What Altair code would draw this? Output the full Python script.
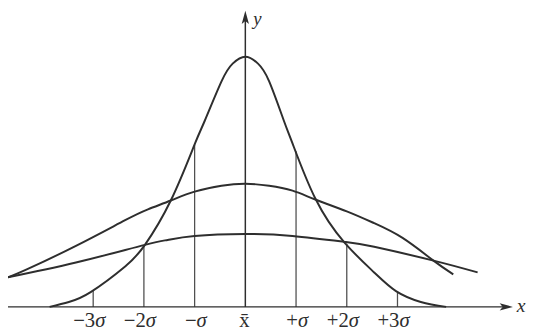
import altair as alt
import pandas as pd

# Curves: x in sigma units, height above the x axis
narrow_s = [-3.86, -3.48, -3.05, -2.37, -1.98, -1.47, -1.0, -0.80, -0.47, -0.25, 0.0,
            0.25, 0.47, 0.76, 0.93, 1.38, 1.96, 2.54, 2.97, 3.46, 3.96]
narrow_h = [0, 5, 15, 41, 63, 108, 165, 189, 229, 247, 254,
            247, 229, 189, 166, 110, 65, 35, 16, 5, 0]

medium_s = [-4.68, -4.31, -3.34, -2.37, -1.92, -1.47, -1.0, -0.47, 0.0,
            0.47, 0.93, 1.38, 2.0, 2.54, 3.1, 3.71, 4.10]
medium_h = [30, 38, 62, 88, 99, 108, 117, 123, 125,
            123, 118, 109, 97, 85, 70, 47, 33]

flat_s = [-4.68, -3.34, -1.98, -1.53, -1.0, 0.0, 0.93, 1.96, 2.54, 3.71, 4.58]
flat_h = [30, 45, 63, 68, 72, 74, 72, 66, 61, 47, 35]

# vertical lines at the sigma marks, up to the narrow curve
vert_s = [-3, -2, -1, 1, 2, 3]
vert_h = [16, 62, 165, 158, 64, 15]

tick_s = [-3, -2, -1, 1, 2, 3]
tick_prefix = ["\u22123", "\u22122", "\u2212", "+", "+2", "+3"]

W, H = 526, 323
xs = alt.Scale(domain=[-4.6796, 5.534], nice=False, zero=False)
ys = alt.Scale(domain=[-22, 301], nice=False, zero=False)
INK = "#2e2e2e"
FONT = "Liberation Serif"
FS = 21

rows = []
for name, S, Hh in [("narrow", narrow_s, narrow_h), ("medium", medium_s, medium_h), ("flat", flat_s, flat_h)]:
    for s, h in zip(S, Hh):
        rows.append({"curve": name, "s": s, "h": h})
curves = pd.DataFrame(rows)

verts = pd.DataFrame({"s": vert_s, "h": vert_h, "base": [0] * len(vert_s)})
ticks = pd.DataFrame({"s": tick_s, "prefix": tick_prefix, "sig": ["\u03c3"] * len(tick_s)})
one = pd.DataFrame({"k": [0]})

lines = alt.Chart(curves).mark_line(interpolate="natural", color=INK, strokeWidth=2).encode(
    x=alt.X("s:Q", scale=xs, axis=None),
    y=alt.Y("h:Q", scale=ys, axis=None),
    detail="curve:N",
    order="s:Q",
)

vlines = alt.Chart(verts).mark_rule(color="#505050", strokeWidth=1.3).encode(
    x=alt.X("s:Q", scale=xs, axis=None),
    y=alt.Y("base:Q", scale=ys, axis=None),
    y2="h:Q",
)

xaxis = alt.Chart(one).mark_rule(color=INK, strokeWidth=1.5).encode(
    x=alt.value(0), x2=alt.value(506), y=alt.value(301)
)
yaxis = alt.Chart(one).mark_rule(color=INK, strokeWidth=1.5).encode(
    x=alt.value(241), y=alt.value(301), y2=alt.value(8)
)

arrow = "M0,-1L0.55,1L0,0.55L-0.55,1Z"
xarrow = alt.Chart(one).mark_point(shape=arrow, filled=True, color=INK, opacity=1, size=180, angle=90, strokeWidth=0).encode(
    x=alt.value(506), y=alt.value(301)
)
yarrow = alt.Chart(one).mark_point(shape=arrow, filled=True, color=INK, opacity=1, size=180, strokeWidth=0).encode(
    x=alt.value(241), y=alt.value(7)
)

pre = alt.Chart(ticks).mark_text(align="right", baseline="alphabetic", dx=2, font=FONT, fontSize=FS, color=INK).encode(
    x=alt.X("s:Q", scale=xs, axis=None), y=alt.value(321), text="prefix:N"
)
sig = alt.Chart(ticks).mark_text(align="left", baseline="alphabetic", dx=2, font=FONT, fontSize=FS, fontStyle="italic", color=INK).encode(
    x=alt.X("s:Q", scale=xs, axis=None), y=alt.value(321), text="sig:N"
)
xbar = alt.Chart(one).mark_text(align="center", baseline="alphabetic", font=FONT, fontSize=FS, color=INK, text="x\u0304").encode(
    x=alt.value(240), y=alt.value(321)
)
xlab = alt.Chart(one).mark_text(align="center", baseline="alphabetic", font=FONT, fontSize=20, fontStyle="italic", color=INK, text="x").encode(
    x=alt.value(521), y=alt.value(306)
)
ylab = alt.Chart(one).mark_text(align="left", baseline="middle", font=FONT, fontSize=19, fontStyle="italic", color=INK, text="y").encode(
    x=alt.value(249), y=alt.value(9)
)

chart = alt.layer(vlines, lines, xaxis, yaxis, xarrow, yarrow, pre, sig, xbar, xlab, ylab).properties(
    width=W, height=H, padding=0, autosize="none", background="white"
).configure_view(stroke=None)

chart.save("out.html", embed_options={"renderer": "svg", "actions": False})
